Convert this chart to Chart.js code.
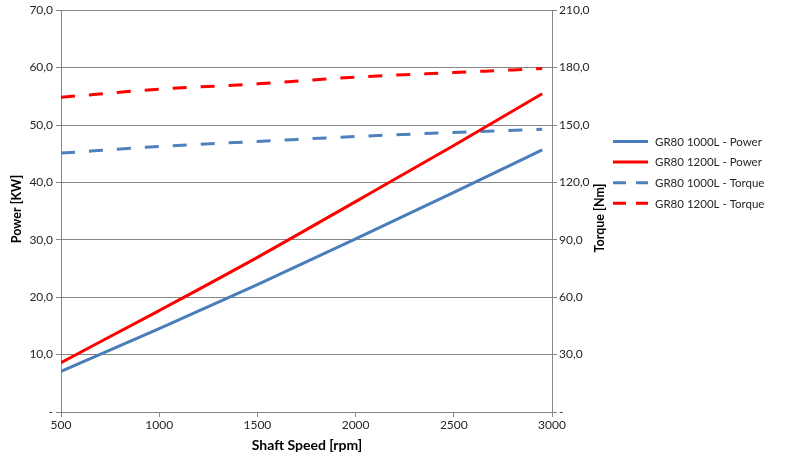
<!DOCTYPE html>
<html>
<head>
<meta charset="utf-8">
<script src="https://cdn.jsdelivr.net/npm/chart.js@4.4.1/dist/chart.umd.min.js"></script>
<style>
  html, body { margin: 0; padding: 0; background: #fff; }
  #wrap { width: 798px; height: 461px; position: relative; }
</style>
</head>
<body>
<div id="wrap"><canvas id="myChart" width="798" height="461"></canvas></div>
<script>
// shaft speed [rpm]
const speeds = [500, 1000, 1500, 2000, 2500, 2950];
// power [KW]
const power1000 = [7.08, 14.54, 22.21, 30.16, 38.25, 45.66];
const power1200 = [8.61, 17.67, 26.94, 36.65, 46.44, 55.45];
// torque [Nm]
const torque1000 = [135.3, 138.8, 141.4, 144.0, 146.1, 147.8];
const torque1200 = [164.5, 168.7, 171.5, 175.0, 177.4, 179.5];

const seriesLabels = ['GR80 1000L - Power', 'GR80 1200L - Power', 'GR80 1000L - Torque', 'GR80 1200L - Torque'];

const BLUE = '#4a7ebb';
const BLUE_DASH = '#4f81bd';
const RED = '#ff0000';
const GRID = '#868686';
const FONT = 'Lato, "Open Sans", sans-serif';

function pts(values) {
    return speeds.map((s, i) => ({ x: s, y: values[i] }));
}

function fmt(v) {
    if (v === 0) return '-';
    return v.toFixed(1).replace('.', ',');
}

const titlesAndLegend = {
    id: 'titlesAndLegend',
    afterDraw(chart) {
        const ctx = chart.ctx;
        ctx.save();
        ctx.fillStyle = '#000';
        ctx.textAlign = 'center';
        ctx.textBaseline = 'middle';
        ctx.font = 'bold 14px ' + FONT;
        ctx.fillText('Shaft Speed [rpm]', 307, 445);

        ctx.font = 'bold 12.5px ' + FONT;
        ctx.save();
        ctx.translate(17, 209);
        ctx.rotate(-Math.PI / 2);
        ctx.fillText('Power [KW]', 0, 0);
        ctx.restore();

        ctx.save();
        ctx.translate(600, 218);
        ctx.rotate(-Math.PI / 2);
        ctx.fillText('Torque [Nm]', 0, 0);
        ctx.restore();

        // legend
        ctx.font = '11.5px ' + FONT;
        ctx.textAlign = 'left';
        ctx.fillStyle = '#262626';
        chart.data.datasets.forEach((ds, i) => {
            const y = 141.5 + i * 20.6;
            ctx.beginPath();
            ctx.strokeStyle = ds.borderColor;
            ctx.lineWidth = 3;
            ctx.setLineDash(ds.borderDash ? [13, 10] : []);
            ctx.moveTo(613, y);
            ctx.lineTo(648, y);
            ctx.stroke();
            ctx.setLineDash([]);
            ctx.fillText(ds.label, 655, y + 0.5);
        });
        ctx.restore();
    }
};

const config = {
    type: 'line',
    data: {
        datasets: [{
            label: seriesLabels[0],
            data: pts(power1000),
            borderColor: BLUE,
            yAxisID: 'y'
        }, {
            label: seriesLabels[1],
            data: pts(power1200),
            borderColor: RED,
            yAxisID: 'y'
        }, {
            label: seriesLabels[2],
            data: pts(torque1000),
            borderColor: BLUE_DASH,
            borderDash: [14, 14],
            yAxisID: 'y2'
        }, {
            label: seriesLabels[3],
            data: pts(torque1200),
            borderColor: RED,
            borderDash: [14, 14],
            yAxisID: 'y2'
        }]
    },
    options: {
        responsive: false,
        animation: false,
        layout: { padding: { top: 9.5, right: 180, bottom: 0, left: 0 } },
        elements: {
            point: { radius: 0 },
            line: { borderWidth: 3, cubicInterpolationMode: 'monotone', fill: false }
        },
        plugins: {
            legend: { display: false },
            tooltip: { enabled: false }
        },
        scales: {
            x: {
                type: 'linear',
                min: 500,
                max: 3000,
                ticks: { stepSize: 500, padding: 1, color: '#262626', font: { family: FONT, size: 12 }, callback: v => String(v) },
                grid: { drawOnChartArea: false, drawTicks: true, tickLength: 5, color: GRID },
                border: { color: GRID, width: 1 },
                afterFit(scale) { scale.height = 49; }
            },
            y: {
                position: 'left',
                min: 0,
                max: 70,
                ticks: { stepSize: 10, padding: 3, color: '#262626', font: { family: FONT, size: 12 }, callback: fmt },
                grid: { color: GRID, tickLength: 5 },
                border: { color: GRID, width: 1 },
                afterFit(scale) { scale.width = 61; }
            },
            y2: {
                position: 'right',
                min: 0,
                max: 210,
                ticks: { stepSize: 30, padding: 2, color: '#262626', font: { family: FONT, size: 12 }, callback: fmt },
                grid: { drawOnChartArea: false, color: GRID, tickLength: 5 },
                border: { color: GRID, width: 1 },
                afterFit(scale) { scale.width = 66; }
            }
        }
    },
    plugins: [titlesAndLegend]
};

const ctx = document.getElementById('myChart').getContext('2d');
new Chart(ctx, config);
</script>
</body>
</html>
